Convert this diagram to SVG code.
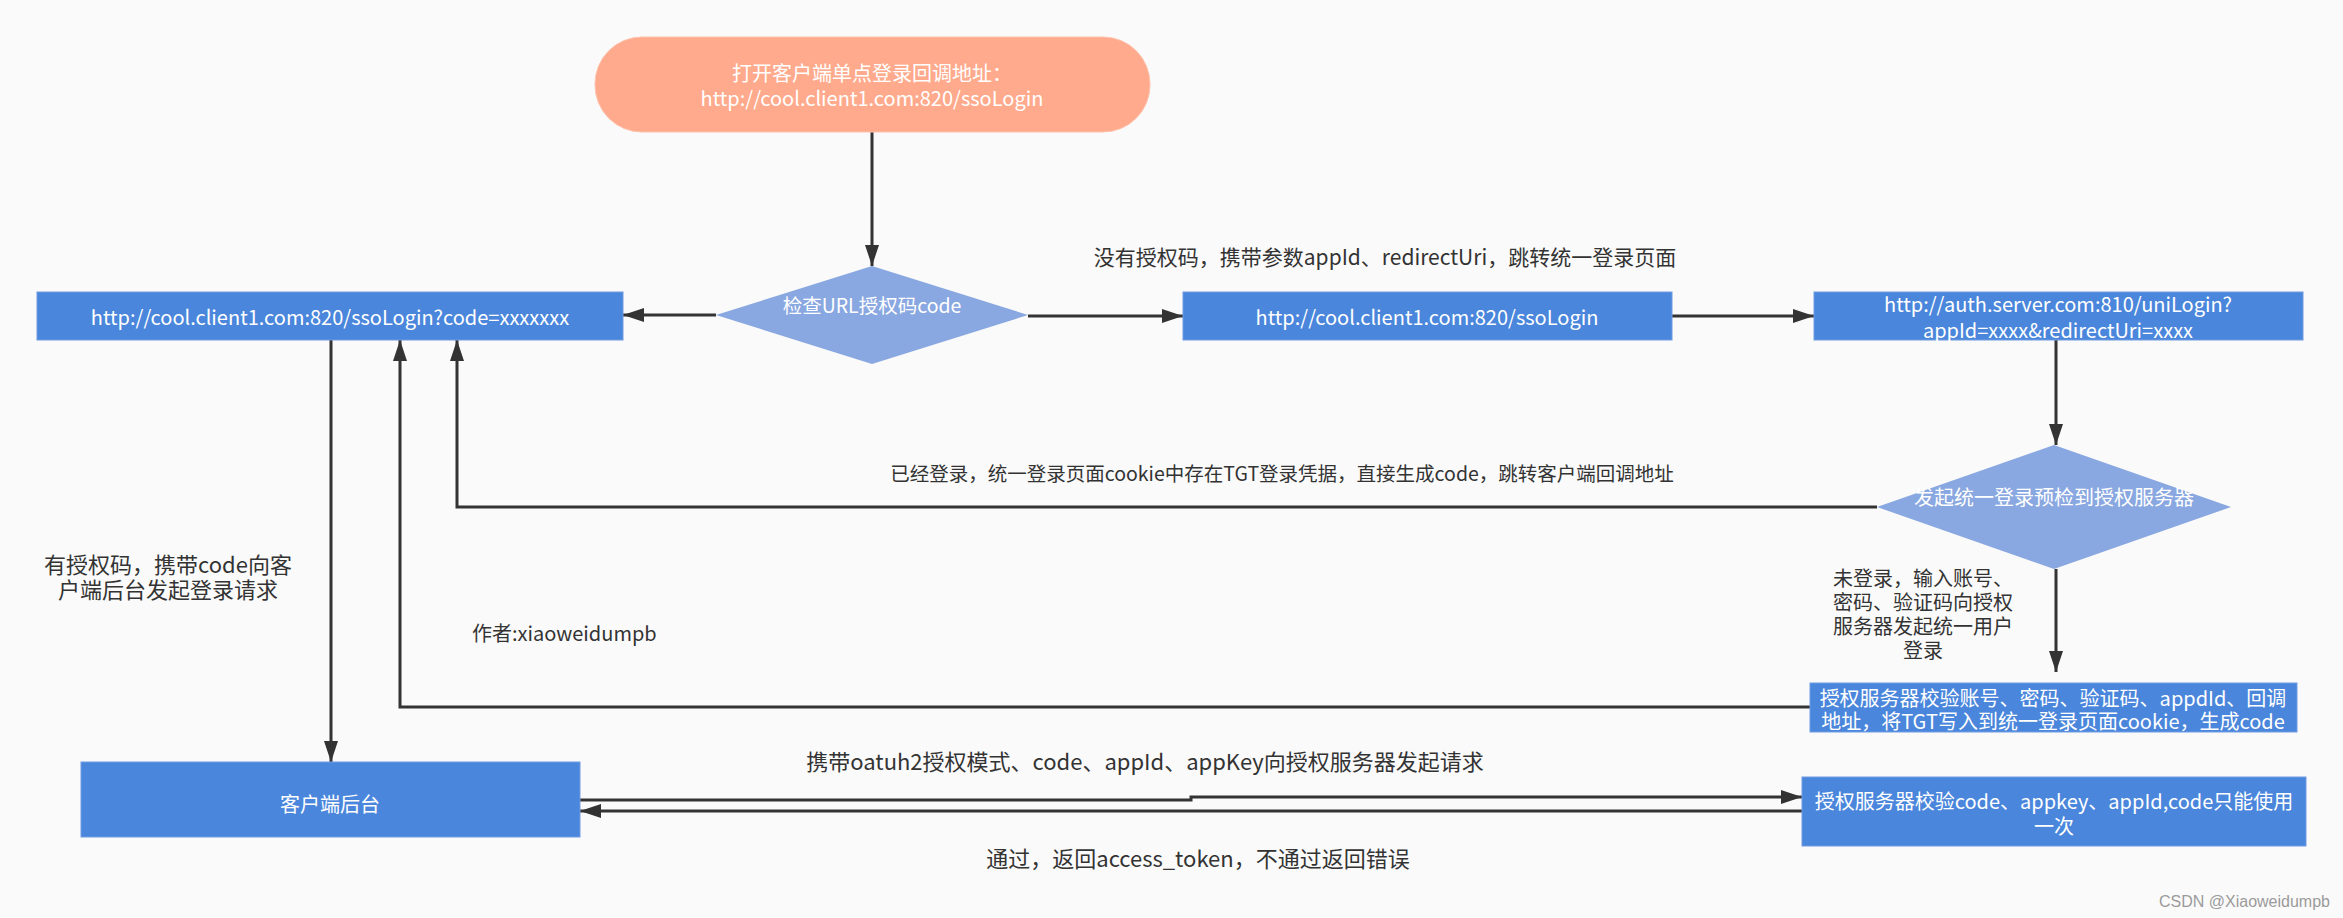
<svg xmlns="http://www.w3.org/2000/svg" width="2343" height="918" viewBox="0 0 2343 918">
<defs>
<style>
.t{font-family:"Noto Sans CJK SC","Liberation Sans",sans-serif;text-anchor:middle;dominant-baseline:central}
.w{fill:#ffffff;font-size:20px}
.d{fill:#333333;font-size:20px}
.box{fill:#4a86db;stroke:#6f9ce3;stroke-width:1}
.dia{fill:#89a7e0}
.ln{fill:none;stroke:#333333;stroke-width:3}
</style>
<marker id="ah" viewBox="0 0 21 14" refX="21" refY="7" markerWidth="21" markerHeight="14" markerUnits="userSpaceOnUse" orient="auto">
<path d="M0,0 L21,7 L0,14 z" fill="#333333"/>
</marker>
</defs>
<rect x="0" y="0" width="2343" height="918" fill="#fafafa"/>

<g id="connectors">
<path class="ln" d="M872,132 V266" marker-end="url(#ah)"/>
<path class="ln" d="M716,315 H623" marker-end="url(#ah)"/>
<path class="ln" d="M1028,316 H1183" marker-end="url(#ah)"/>
<path class="ln" d="M1672,316 H1814" marker-end="url(#ah)"/>
<path class="ln" d="M2056,340 V445" marker-end="url(#ah)"/>
<path class="ln" d="M1877,507 H457 V340" marker-end="url(#ah)"/>
<path class="ln" d="M2056,569 V672" marker-end="url(#ah)"/>
<path class="ln" d="M1810,707 H400 V340" marker-end="url(#ah)"/>
<path class="ln" d="M331,340 V762" marker-end="url(#ah)"/>
<path class="ln" d="M580,800 H1191 V797 H1802" marker-end="url(#ah)"/>
<path class="ln" d="M1802,811 H580" marker-end="url(#ah)"/>
</g>

<g id="n-start">
<rect x="595" y="37" width="555" height="95" rx="47" ry="47" fill="#ffaa8c" stroke="#ffc2ad" stroke-width="1"/>
<text class="t w"><tspan x="872" y="72">打开客户端单点登录回调地址：</tspan><tspan x="872" y="97">http://cool.client1.com:820/ssoLogin</tspan></text>
</g>

<g id="n-check">
<polygon class="dia" points="872,266 1028,315 872,364 716,315"/>
<text class="t w" x="872" y="304" style="font-size:19.5px">检查URL授权码code</text>
</g>

<g id="n-codeurl">
<rect class="box" x="37" y="292" width="586" height="48"/>
<text class="t w" x="330" y="316">http://cool.client1.com:820/ssoLogin?code=xxxxxxx</text>
</g>

<g id="n-ssologin">
<rect class="box" x="1183" y="292" width="489" height="48"/>
<text class="t w" x="1427" y="316">http://cool.client1.com:820/ssoLogin</text>
</g>

<g id="n-unilogin">
<rect class="box" x="1814" y="292" width="489" height="48"/>
<text class="t w"><tspan x="2058" y="303">http://auth.server.com:810/uniLogin?</tspan><tspan x="2058" y="329">appId=xxxx&amp;redirectUri=xxxx</tspan></text>
</g>

<g id="n-precheck">
<polygon class="dia" points="2054,445 2231,507 2054,569 1877,507"/>
<text class="t w" x="2054" y="496">发起统一登录预检到授权服务器</text>
</g>

<g id="n-verify">
<rect class="box" x="1810" y="683" width="487" height="49"/>
<text class="t w"><tspan x="2053" y="697">授权服务器校验账号、密码、验证码、appdId、回调</tspan><tspan x="2053" y="720">地址，将TGT写入到统一登录页面cookie，生成code</tspan></text>
</g>

<g id="n-backend">
<rect class="box" x="81" y="762" width="499" height="75"/>
<text class="t w" x="330" y="803">客户端后台</text>
</g>

<g id="n-token">
<rect class="box" x="1802" y="777" width="504" height="69"/>
<text class="t w"><tspan x="2054" y="800">授权服务器校验code、appkey、appId,code只能使用</tspan><tspan x="2054" y="825">一次</tspan></text>
</g>

<g id="labels">
<text class="t d" x="1385" y="256" style="font-size:21px">没有授权码，携带参数appId、redirectUri，跳转统一登录页面</text>
<text class="t d" x="1282" y="472" style="font-size:19.5px">已经登录，统一登录页面cookie中存在TGT登录凭据，直接生成code，跳转客户端回调地址</text>
<text class="t d"><tspan x="1923" y="577">未登录，输入账号、</tspan><tspan x="1923" y="601">密码、验证码向授权</tspan><tspan x="1923" y="625">服务器发起统一用户</tspan><tspan x="1923" y="649">登录</tspan></text>
<text class="t d" style="font-size:22px"><tspan x="168" y="563">有授权码，携带code向客</tspan><tspan x="168" y="588">户端后台发起登录请求</tspan></text>
<text class="t d" x="472" y="632" style="text-anchor:start">作者:xiaoweidumpb</text>
<text class="t d" x="1145" y="760" style="font-size:22px">携带oatuh2授权模式、code、appId、appKey向授权服务器发起请求</text>
<text class="t d" x="1198" y="857" style="font-size:22px">通过，返回access_token，不通过返回错误</text>
<text x="2330" y="907" style="font-family:'Liberation Sans',sans-serif;font-size:16px;fill:#9a9a9a;text-anchor:end">CSDN @Xiaoweidumpb</text>
</g>
</svg>
